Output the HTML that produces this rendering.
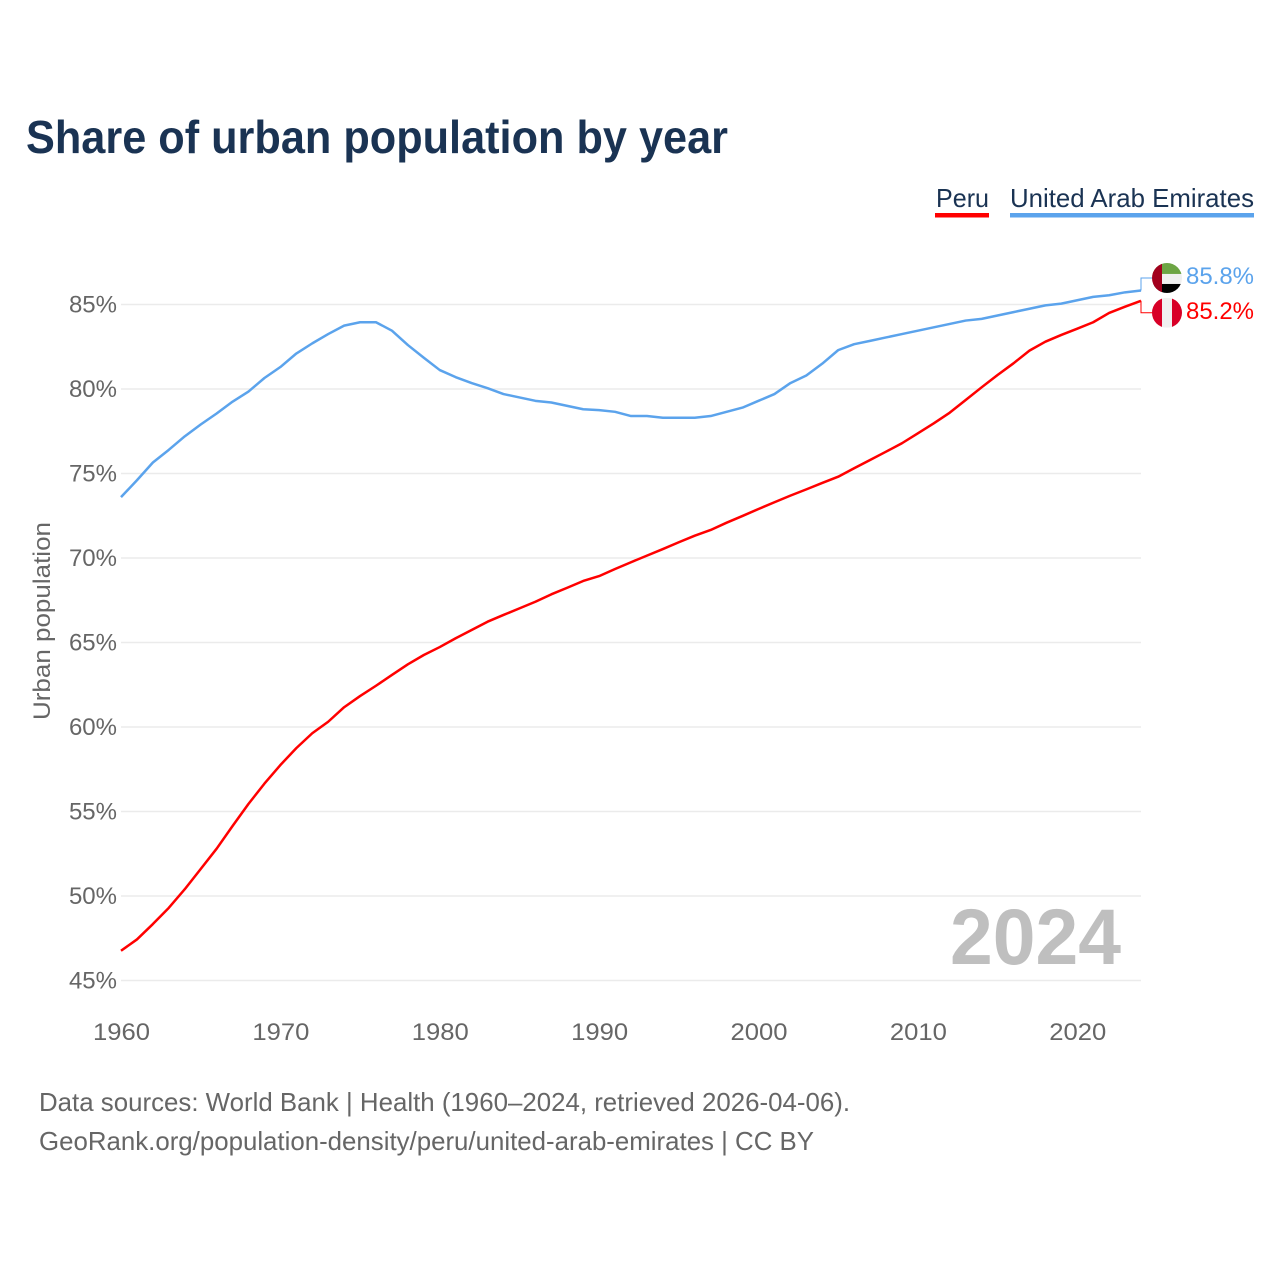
<!DOCTYPE html>
<html lang="en">
<head>
<meta charset="utf-8">
<title>Share of urban population by year</title>
<style>
html,body{margin:0;padding:0;background:#fff;}
svg{display:block;font-family:"Liberation Sans",Arial,sans-serif;}
</style>
</head>
<body>
<svg id="chart" xmlns="http://www.w3.org/2000/svg" width="1280" height="1280" viewBox="0 0 1280 1280">
  <defs>
    <clipPath id="flag-clip"><circle cx="0" cy="0" r="15"></circle></clipPath>
  </defs>
  <rect x="0" y="0" width="1280" height="1280" fill="#ffffff"></rect>
  <text x="26" y="153" font-size="46" font-weight="700" fill="#1a3353" textLength="702" lengthAdjust="spacingAndGlyphs">Share of urban population by year</text>

  <g>
    <g>
      <text x="936" y="207" font-size="26" fill="#1a3353" textLength="53" lengthAdjust="spacingAndGlyphs">Peru</text>
      <rect x="935" y="213" width="54" height="4.5" fill="#ff0000"></rect>
    </g>
    <g>
      <text x="1010" y="207" font-size="26" fill="#1a3353" textLength="244" lengthAdjust="spacingAndGlyphs">United Arab Emirates</text>
      <rect x="1010" y="213" width="244" height="4.5" fill="#5ba3ec"></rect>
    </g>
  </g>

  <g id="grid"></g>
  <g id="y-ticks"></g>
  <g id="x-ticks"></g>
  <text transform="translate(50,621) rotate(-90)" text-anchor="middle" font-size="24" fill="#666666" textLength="198" lengthAdjust="spacingAndGlyphs">Urban population</text>

  <text x="950" y="964" font-size="79" font-weight="700" fill="#bfbfbf" textLength="171" lengthAdjust="spacingAndGlyphs">2024</text>

  <g id="series"></g>

  <g id="flag-uae">
    <g clip-path="url(#flag-clip)">
      <rect x="-15" y="-15" width="30" height="11" fill="#6da544"></rect>
      <rect x="-15" y="-4" width="30" height="10" fill="#f0f0f0"></rect>
      <rect x="-15" y="6" width="30" height="9" fill="#000000"></rect>
      <rect x="-15" y="-15" width="10" height="30" fill="#a2001d"></rect>
    </g>
  </g>
  <g id="flag-peru">
    <g clip-path="url(#flag-clip)">
      <rect x="-15" y="-15" width="30" height="30" fill="#f0f0f0"></rect>
      <rect x="-15" y="-15" width="10" height="30" fill="#d80027"></rect>
      <rect x="5" y="-15" width="10" height="30" fill="#d80027"></rect>
    </g>
  </g>

  <g>
    <text x="39" y="1111" font-size="26" fill="#666666" textLength="811" lengthAdjust="spacingAndGlyphs">Data sources: World Bank | Health (1960–2024, retrieved 2026-04-06).</text>
    <text x="39" y="1150" font-size="26" fill="#666666" textLength="775" lengthAdjust="spacingAndGlyphs">GeoRank.org/population-density/peru/united-arab-emirates | CC BY</text>
  </g>
</svg>
<script>
const years = [1960,1961,1962,1963,1964,1965,1966,1967,1968,1969,1970,1971,1972,1973,1974,1975,1976,1977,1978,1979,1980,1981,1982,1983,1984,1985,1986,1987,1988,1989,1990,1991,1992,1993,1994,1995,1996,1997,1998,1999,2000,2001,2002,2003,2004,2005,2006,2007,2008,2009,2010,2011,2012,2013,2014,2015,2016,2017,2018,2019,2020,2021,2022,2023,2024];
const peruValues = [46.76,47.43,48.34,49.3,50.4,51.6,52.8,54.14,55.45,56.65,57.75,58.75,59.63,60.31,61.17,61.83,62.44,63.08,63.71,64.26,64.73,65.25,65.74,66.23,66.63,67.02,67.41,67.85,68.24,68.64,68.93,69.35,69.75,70.14,70.53,70.93,71.32,71.66,72.09,72.49,72.9,73.3,73.69,74.06,74.44,74.81,75.31,75.8,76.29,76.79,77.38,77.97,78.6,79.35,80.1,80.83,81.52,82.27,82.8,83.2,83.57,83.95,84.5,84.87,85.22];
const uaeValues = [73.6,74.6,75.65,76.4,77.2,77.9,78.55,79.25,79.85,80.65,81.3,82.1,82.7,83.25,83.75,83.95,83.95,83.45,82.6,81.85,81.12,80.7,80.35,80.05,79.7,79.5,79.3,79.2,79,78.8,78.75,78.65,78.4,78.4,78.3,78.3,78.3,78.4,78.65,78.9,79.3,79.7,80.35,80.8,81.5,82.3,82.65,82.85,83.05,83.25,83.45,83.65,83.85,84.05,84.15,84.35,84.55,84.75,84.95,85.05,85.25,85.45,85.55,85.72,85.83];
const yTicks = [45,50,55,60,65,70,75,80,85];
const xTicks = [1960,1970,1980,1990,2000,2010,2020];

const NS = 'http://www.w3.org/2000/svg';
const xScale = v => 121 + (v - 1960) * (1141 - 121) / 64;
const yScale = v => 980.5 - (v - 45) * (980.5 - 304.5) / 40;

function make(tag, parent, props) {
  const el = document.createElementNS(NS, tag);
  for (const k in props) el.setAttribute(k, props[k]);
  parent.appendChild(el);
  return el;
}

const gridG = document.getElementById('grid');
const yG = document.getElementById('y-ticks');
const xG = document.getElementById('x-ticks');
const seriesG = document.getElementById('series');

yTicks.forEach(v => {
  const line = make('line', gridG, {x1: 121, x2: 1141, y1: yScale(v), y2: yScale(v), stroke: '#ebebeb', 'stroke-width': 1.5});
  
  
  const label = make('text', yG, {x: 117, y: yScale(v) + 8, 'text-anchor': 'end', 'font-size': 24, fill: '#666666'});
  label.textContent = v + '%';
  
  
});

xTicks.forEach(v => {
  const label = make('text', xG, {x: xScale(v) + 0.5, y: 1040, 'text-anchor': 'middle', 'font-size': 24, fill: '#666666', textLength: 57, lengthAdjust: 'spacingAndGlyphs'});
  label.textContent = String(v);
  
  
});

function linePath(values) {
  return values.map((v, i) => (i ? 'L' : 'M') + xScale(years[i]).toFixed(2) + ' ' + yScale(v).toFixed(2)).join(' ');
}

const uaeLine = make('path', seriesG, {d: linePath(uaeValues), fill: 'none', stroke: '#5ba3ec', 'stroke-width': 2.5, 'stroke-linejoin': 'round'});



const peruLine = make('path', seriesG, {d: linePath(peruValues), fill: 'none', stroke: '#ff0000', 'stroke-width': 2.5, 'stroke-linejoin': 'round'});



const lastX = xScale(years[years.length - 1]);
const uaeLastY = yScale(uaeValues[uaeValues.length - 1]);
const peruLastY = yScale(peruValues[peruValues.length - 1]);
const uaeLabelY = uaeLastY - 12.5;
const peruLabelY = peruLastY + 12;

const uaeConnector = make('path', seriesG, {d: 'M' + lastX + ' ' + uaeLastY + ' V' + uaeLabelY + ' H1152', fill: 'none', stroke: '#5ba3ec', 'stroke-width': 1});



const peruConnector = make('path', seriesG, {d: 'M' + lastX + ' ' + peruLastY + ' V' + peruLabelY + ' H1152', fill: 'none', stroke: '#ff0000', 'stroke-width': 1});



document.getElementById('flag-uae').setAttribute('transform', 'translate(1167,' + uaeLabelY + ')');
document.getElementById('flag-peru').setAttribute('transform', 'translate(1167,' + peruLabelY + ')');

const svgRoot = document.getElementById('chart');
const uaeValueLabel = make('text', svgRoot, {x: 1186, y: uaeLabelY + 6, 'font-size': 24, fill: '#5ba3ec', textLength: 68, lengthAdjust: 'spacingAndGlyphs'});
uaeValueLabel.textContent = uaeValues[uaeValues.length - 1].toFixed(1) + '%';



const peruValueLabel = make('text', svgRoot, {x: 1186, y: peruLabelY + 6, 'font-size': 24, fill: '#ff0000', textLength: 68, lengthAdjust: 'spacingAndGlyphs'});
peruValueLabel.textContent = peruValues[peruValues.length - 1].toFixed(1) + '%';


</script>
</body>
</html>
